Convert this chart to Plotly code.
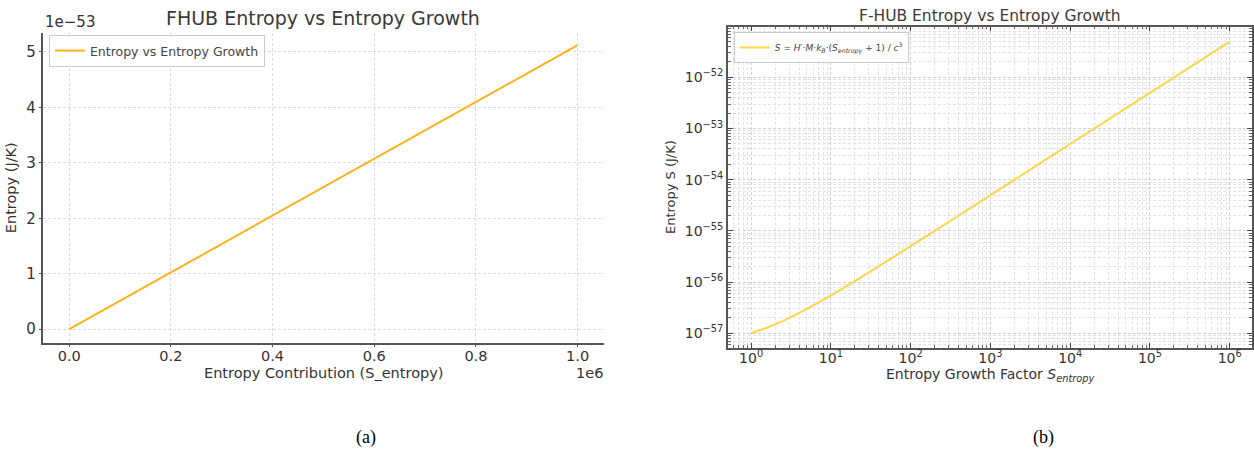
import plotly.graph_objects as go

W, H = 1254, 450

# ---- data (a): linear plot ----
a_x = [0, 200000, 400000, 600000, 800000, 1000000]
a_y = [0.0, 1.024e-53, 2.048e-53, 3.072e-53, 4.096e-53, 5.12e-53]
a_xticks = [0, 200000, 400000, 600000, 800000, 1000000]
a_xtext = ["0.0", "0.2", "0.4", "0.6", "0.8", "1.0"]
a_yticks = [0, 1e-53, 2e-53, 3e-53, 4e-53, 5e-53]
a_ytext = ["0", "1", "2", "3", "4", "5"]

# ---- data (b): log-log plot ----
b_x = [1, 2, 3, 5, 10, 20, 50, 100, 200, 500, 1000, 10000, 100000, 1000000]
b_y = [1.0e-57, 1.5e-57, 2.0e-57, 3.0e-57, 5.5e-57, 1.05e-56, 2.55e-56,
       5.05e-56, 1.0e-55, 2.5e-55, 5.0e-55, 5.0e-54, 5.0e-53, 5.0e-52]
b_xticks = [1, 10, 100, 1000, 10000, 100000, 1000000]
b_xtext = ["10<sup>0</sup>", "10<sup>1</sup>", "10<sup>2</sup>", "10<sup>3</sup>",
           "10<sup>4</sup>", "10<sup>5</sup>", "10<sup>6</sup>"]
b_yticks = [1e-57, 1e-56, 1e-55, 1e-54, 1e-53, 1e-52]
b_ytext = ["10<sup>−57</sup>", "10<sup>−56</sup>", "10<sup>−55</sup>",
           "10<sup>−54</sup>", "10<sup>−53</sup>", "10<sup>−52</sup>"]

FONT = "DejaVu Sans"
TXT = "#333333"

fig = go.Figure()
fig.add_trace(go.Scatter(x=a_x, y=a_y, mode="lines", name="Entropy vs Entropy Growth",
                         line=dict(color="#ffb21e", width=2), xaxis="x", yaxis="y",
                         legend="legend"))
fig.add_trace(go.Scatter(x=b_x, y=b_y, mode="lines",
                         name="<i>S</i> = <i>H′</i>·<i>M</i>·<i>k<sub>B</sub></i>·(<i>S<sub>entropy</sub></i> + 1) / <i>c</i><sup>3</sup>",
                         line=dict(color="#ffd54a", width=2, shape="spline"),
                         xaxis="x2", yaxis="y2", legend="legend2"))

def px2x(p): return p / W
def px2y(p): return 1 - p / H

DASH = "3px,2px"
grid_a = dict(showgrid=True, gridcolor="#dcdcdc", griddash=DASH, gridwidth=1)

def ann(text, x, y, size, xanchor="center", color=TXT, family=None):
    f = dict(size=size, color=color)
    if family:
        f["family"] = family
    return dict(text=text, x=px2x(x), y=px2y(y), xref="paper", yref="paper",
                xanchor=xanchor, yanchor="middle", showarrow=False, font=f)

fig.update_layout(
    width=W, height=H,
    margin=dict(l=0, r=0, t=0, b=0),
    paper_bgcolor="white", plot_bgcolor="white",
    font=dict(family=FONT, color=TXT),
    xaxis=dict(domain=[px2x(43.5), px2x(605)], anchor="y",
               range=[-50700, 1052000], tickvals=a_xticks, ticktext=a_xtext,
               tickfont=dict(size=14.5), ticks="outside", ticklen=3, tickcolor="#555",
               ticklabelstandoff=-4,
               showline=True, linecolor="#555", linewidth=1.5, zeroline=False,
               **grid_a),
    yaxis=dict(domain=[px2y(342.5), px2y(33)], anchor="x",
               range=[-0.24e-53, 5.34e-53], tickvals=a_yticks, ticktext=a_ytext,
               tickfont=dict(size=15), ticks="outside", ticklen=3, tickcolor="#555",
               showline=True, linecolor="#555", linewidth=1.5, zeroline=False,
               title=dict(text="Entropy (J/K)", font=dict(size=14.5), standoff=6),
               **grid_a),
    xaxis2=dict(domain=[px2x(729), 1.0], anchor="y2", type="log",
                range=[-0.292, 6.28], tickvals=b_xticks, ticktext=b_xtext,
                tickfont=dict(size=14), ticks="inside", ticklen=5, tickcolor="#444",
                ticklabelstandoff=-3,
                showline=True, linecolor="#555", linewidth=1.5, mirror="ticks",
                zeroline=False, showgrid=True, gridcolor="#d3d3d3", griddash=DASH,
                minor=dict(dtick="D1", showgrid=True, gridcolor="#e3e3e3", griddash=DASH,
                           ticks="inside", ticklen=3, tickcolor="#666")),
    yaxis2=dict(domain=[px2y(347.5), px2y(26.7)], anchor="x2", type="log",
                range=[-57.277, -51.01], tickvals=b_yticks, ticktext=b_ytext,
                tickfont=dict(size=14), ticks="inside", ticklen=5, tickcolor="#444",
                showline=True, linecolor="#555", linewidth=1.5, mirror="ticks",
                zeroline=False, showgrid=True, gridcolor="#d3d3d3", griddash=DASH,
                minor=dict(dtick="D1", showgrid=True, gridcolor="#e3e3e3", griddash=DASH,
                           ticks="inside", ticklen=3, tickcolor="#666"),
                title=dict(text="Entropy S (J/K)", font=dict(size=13), standoff=6)),
    legend=dict(x=px2x(49), y=px2y(35), xanchor="left", yanchor="top",
                bgcolor="rgba(255,255,255,0.9)", bordercolor="#cccccc", borderwidth=1,
                font=dict(size=12.5, color="#444"), itemwidth=30),
    legend2=dict(x=px2x(735), y=px2y(32), xanchor="left", yanchor="top",
                 bgcolor="rgba(255,255,255,0.9)", bordercolor="#cccccc", borderwidth=1,
                 font=dict(size=9, color="#444"), itemwidth=30),
    showlegend=True,
    annotations=[
        ann("FHUB Entropy vs Entropy Growth", 324, 18, 19, color="#3a3a3a"),
        ann("1e−53", 43, 22, 15, xanchor="left"),
        ann("Entropy Contribution (S_entropy)", 324, 373, 14.5),
        ann("1e6", 606, 373, 14.5, xanchor="right"),
        ann("F-HUB Entropy vs Entropy Growth", 992, 16, 15.5, color="#3a3a3a"),
        ann("Entropy Growth Factor <i>S<sub>entropy</sub></i>", 992, 375, 14),
        ann("(a)", 367, 437, 18, color="black", family="Liberation Serif"),
        ann("(b)", 1045, 437, 18, color="black", family="Liberation Serif"),
    ],
)

fig.write_html("out.html", config={"displayModeBar": False},
               post_script="document.body.style.margin='0';document.body.style.overflow='hidden';")
